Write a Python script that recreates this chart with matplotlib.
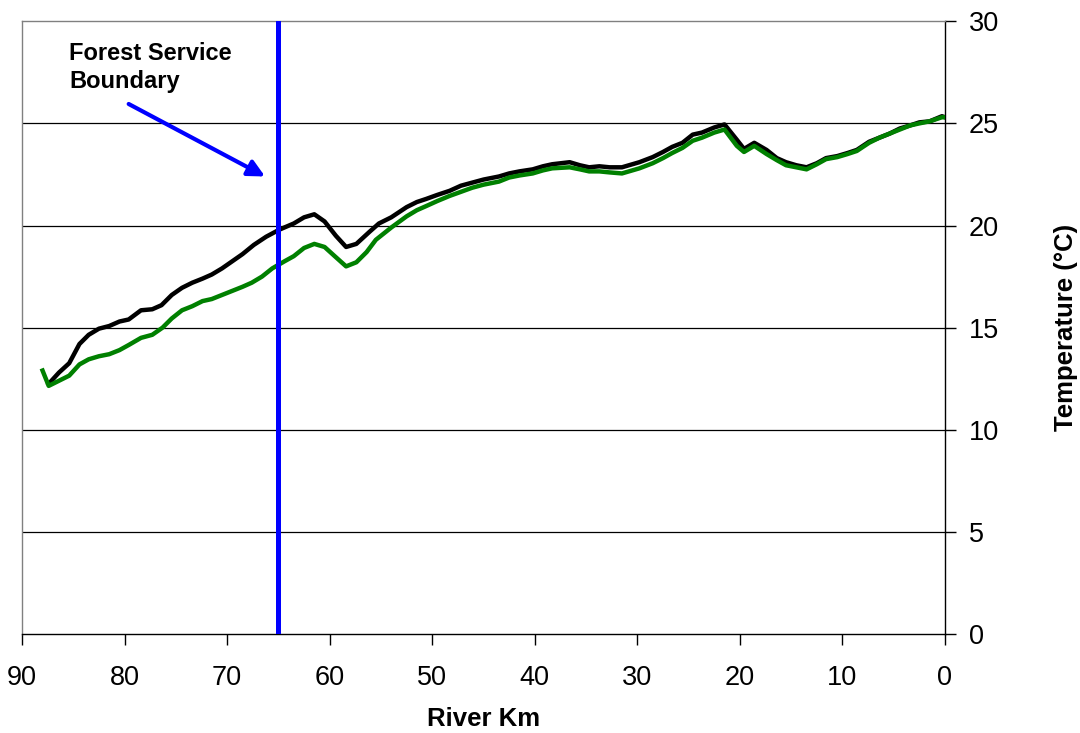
import matplotlib
matplotlib.use("Agg")
import matplotlib.pyplot as plt

plt.rcParams["font.family"] = ["Liberation Sans", "DejaVu Sans"]

# Longitudinal temperature profiles along the river (km upstream of mouth)
black_km = [87.4, 86.4, 85.4, 84.4, 83.5, 82.5, 81.5, 80.5, 79.6, 78.4, 77.3, 76.4,
            75.4, 74.4, 73.4, 72.4, 71.5, 70.5, 69.5, 68.5, 67.4, 66.2, 64.9, 63.5,
            62.5, 61.5, 60.5, 59.4, 58.4, 57.4, 56.1, 55.2, 54.0, 52.5, 51.5, 50.6,
            49.5, 48.3, 47.2, 46.1, 45.0, 43.5, 42.5, 41.5, 40.2, 39.2, 38.3, 36.6,
            35.6, 34.7, 33.7, 32.7, 31.5, 29.8, 28.5, 27.5, 26.6, 25.6, 24.6, 23.7,
            22.5, 21.5, 20.3, 19.6, 18.6, 17.4, 16.4, 15.5, 14.5, 13.5, 12.5, 11.6,
            10.5, 9.5, 8.6, 7.4, 6.4, 5.4, 4.4, 3.4, 2.5, 1.5, 0.3, 0.0]
black_temp = [12.25, 12.8, 13.26, 14.2, 14.65, 14.95, 15.08, 15.3, 15.4, 15.85, 15.9, 16.1,
              16.6, 16.95, 17.2, 17.4, 17.6, 17.9, 18.25, 18.6, 19.05, 19.45, 19.8, 20.1,
              20.4, 20.55, 20.2, 19.5, 18.95, 19.1, 19.7, 20.1, 20.4, 20.9, 21.15, 21.3,
              21.5, 21.7, 21.95, 22.1, 22.25, 22.4, 22.55, 22.65, 22.75, 22.9, 23.0, 23.1,
              22.95, 22.85, 22.9, 22.85, 22.85, 23.1, 23.35, 23.6, 23.85, 24.05, 24.45, 24.55,
              24.8, 24.95, 24.2, 23.75, 24.05, 23.7, 23.3, 23.1, 22.95, 22.85, 23.05, 23.3,
              23.4, 23.55, 23.7, 24.1, 24.3, 24.5, 24.75, 24.9, 25.05, 25.1, 25.35, 25.3]

green_km = [88.0, 87.4, 86.4, 85.4, 84.4, 83.5, 82.5, 81.5, 80.5, 79.6, 78.4, 77.3,
            76.3, 75.4, 74.4, 73.4, 72.4, 71.5, 70.5, 69.5, 68.5, 67.6, 66.6, 65.6,
            64.4, 63.5, 62.5, 61.5, 60.5, 59.4, 58.4, 57.4, 56.4, 55.5, 54.0, 52.5,
            51.5, 50.6, 49.5, 48.3, 47.2, 46.1, 45.0, 43.5, 42.5, 41.5, 40.2, 39.2,
            38.3, 36.6, 35.6, 34.7, 33.7, 32.7, 31.5, 29.8, 28.5, 27.5, 26.6, 25.6,
            24.6, 23.7, 22.5, 21.5, 20.3, 19.6, 18.6, 17.4, 16.4, 15.5, 14.5, 13.5,
            12.5, 11.6, 10.5, 9.5, 8.6, 7.4, 6.4, 5.4, 4.4, 3.4, 2.5, 1.5, 0.3, 0.0]
green_temp = [12.9, 12.15, 12.4, 12.65, 13.2, 13.45, 13.6, 13.7, 13.9, 14.15, 14.5, 14.65,
              15.0, 15.45, 15.85, 16.05, 16.3, 16.4, 16.6, 16.8, 17.0, 17.2, 17.5, 17.9,
              18.25, 18.5, 18.9, 19.1, 18.95, 18.45, 18.0, 18.2, 18.7, 19.3, 19.9, 20.45,
              20.75, 20.95, 21.2, 21.45, 21.65, 21.85, 22.0, 22.15, 22.35, 22.45, 22.55, 22.7,
              22.8, 22.85, 22.75, 22.65, 22.65, 22.6, 22.55, 22.8, 23.05, 23.3, 23.55, 23.8,
              24.15, 24.3, 24.55, 24.7, 23.9, 23.6, 23.9, 23.5, 23.2, 22.95, 22.85, 22.75,
              23.0, 23.25, 23.35, 23.5, 23.65, 24.05, 24.3, 24.5, 24.7, 24.9, 25.0, 25.1, 25.3, 25.3]

boundary_km = 65.0
x_ticks = [90, 80, 70, 60, 50, 40, 30, 20, 10, 0]
y_ticks = [0, 5, 10, 15, 20, 25, 30]

fig = plt.figure(figsize=(10.8, 7.33), dpi=100)
ax = fig.add_axes([0.0204, 0.135, 0.8546, 0.836])

for y in y_ticks[1:-1]:
    ax.axhline(y, color="black", linewidth=0.9, zorder=1)

ax.plot(black_km, black_temp, color="black", linewidth=3.2, zorder=3)
ax.plot(green_km, green_temp, color="#008000", linewidth=3.2, zorder=4)
ax.axvline(boundary_km, color="#0000ff", linewidth=3.6, zorder=5)

ax.annotate("", xy=(66.3, 22.4), xytext=(79.6, 25.95),
            arrowprops=dict(arrowstyle="-|>,head_length=1.0,head_width=0.5",
                            color="#0000ff", linewidth=3.0, shrinkA=0, shrinkB=0),
            zorder=6)
ax.text(85.4, 29.0, "Forest Service\nBoundary", fontsize=17, fontweight="bold",
        ha="left", va="top", linespacing=1.3, zorder=6)

ax.set_xlim(90, 0)
ax.set_ylim(0, 30)
ax.set_xticks(x_ticks)
ax.set_yticks(y_ticks)

ax.yaxis.tick_right()
ax.yaxis.set_label_position("right")
ax.tick_params(axis="both", direction="out", length=8, width=1.0, labelsize=19.5,
               color="black")
ax.tick_params(axis="y", pad=9)
ax.tick_params(axis="x", pad=14)

ax.spines["left"].set_color("#808080")
ax.spines["top"].set_color("#808080")
ax.spines["right"].set_color("black")
ax.spines["bottom"].set_color("black")
for side in ax.spines:
    ax.spines[side].set_linewidth(1.0)

ax.set_xlabel("River Km", fontsize=18.5, fontweight="bold", labelpad=12)
ax.set_ylabel("Temperature (°C)", fontsize=18.5, fontweight="bold", labelpad=40)

fig.savefig("out.png", dpi=100)
